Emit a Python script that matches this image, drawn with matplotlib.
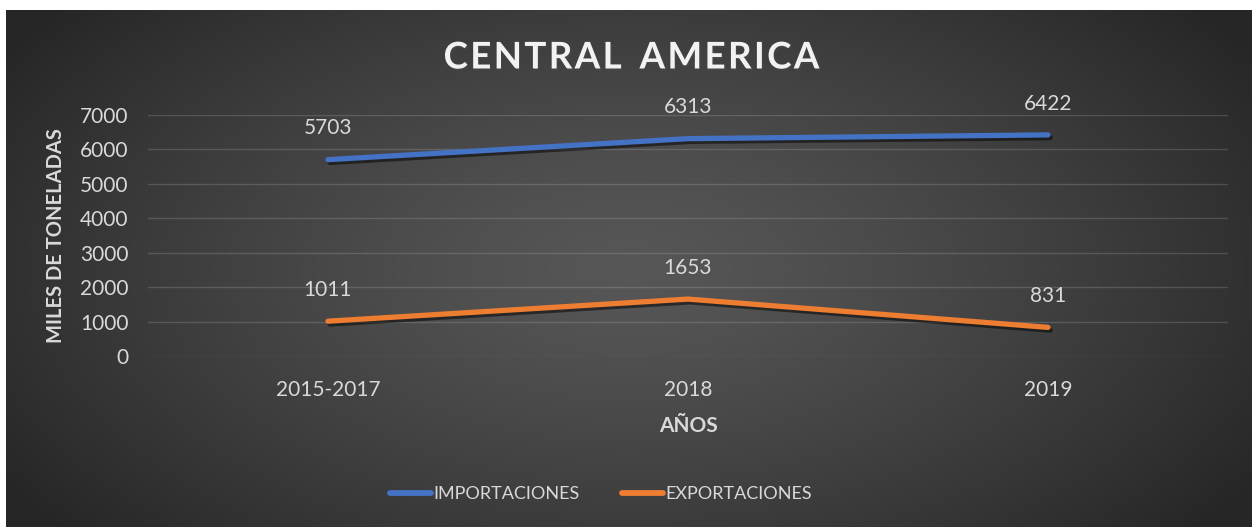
import numpy as np
import matplotlib.pyplot as plt
import matplotlib.patheffects as pe

plt.rcParams['font.family'] = ['Lato', 'DejaVu Sans']

anios = ['2015-2017', '2018', '2019']
importaciones = [5703, 6313, 6422]
exportaciones = [1011, 1653, 831]
y_ticks = [0, 1000, 2000, 3000, 4000, 5000, 6000, 7000]

W, H = 1252, 527
fig = plt.figure(figsize=(W / 100, H / 100), dpi=100)
fig.patch.set_facecolor('white')

# fondo con degradado radial
bg = fig.add_axes([6 / W, 0, (W - 6) / W, (H - 10) / H])
bg.set_axis_off()
gx, gy = np.meshgrid(np.linspace(-1, 1, 600), np.linspace(-1, 1, 260))
r = np.sqrt((gx / 1.0) ** 2 + (gy / 1.3) ** 2)
r = np.clip(r, 0, 1.2) / 1.2
shade = 0.34 - 0.19 * r ** 1.3
img = np.dstack([shade, shade, shade])
bg.imshow(img, aspect='auto', extent=[0, 1, 0, 1], interpolation='bilinear')
bg.set_xlim(0, 1)
bg.set_ylim(0, 1)

ax = fig.add_axes([148 / W, (H - 356) / H, 1080 / W, 241 / H])
ax.patch.set_alpha(0)
x = np.arange(len(anios))

sombra = [pe.SimpleLineShadow(offset=(1.5, -2), shadow_color='black', alpha=0.5), pe.Normal()]
ax.plot(x, importaciones, color='#4472C4', lw=3.8, solid_capstyle='round',
        solid_joinstyle='round', label='IMPORTACIONES', path_effects=sombra, zorder=3)
ax.plot(x, exportaciones, color='#ED7D31', lw=3.8, solid_capstyle='round',
        solid_joinstyle='round', label='EXPORTACIONES', path_effects=sombra, zorder=3)

for serie in (importaciones, exportaciones):
    for xi, v in zip(x, serie):
        ax.annotate(str(v), (xi, v), xytext=(0, 22.5), textcoords='offset points',
                    ha='center', va='center', fontsize=15, color='#d9d9d9')

ax.set_xlim(-0.5, 2.5)
ax.set_ylim(0, 7000)
ax.set_yticks(y_ticks)
ax.set_xticks(x)
ax.set_xticklabels(anios)
ax.grid(axis='y', color='#ffffff', alpha=0.15, lw=1)
ax.set_axisbelow(True)
for s in ax.spines.values():
    s.set_visible(False)
ax.tick_params(length=0, colors='#d9d9d9', labelsize=15)
ax.tick_params(axis='y', pad=14)
ax.tick_params(axis='x', pad=17)

ax.set_ylabel('MILES DE TONELADAS', fontsize=14.5, fontweight='bold', color='#d9d9d9', labelpad=10)
ax.set_xlabel('AÑOS', fontsize=15, fontweight='bold', color='#d9d9d9', labelpad=12)

hs = '\u200a'
titulo = hs.join('CENTRAL') + '  ' + hs.join('AMERICA')
fig.text(631 / W, 1 - 58 / H, titulo,
         ha='center', va='center', fontsize=26.5, fontweight='bold', color='#f2f2f2',
         path_effects=[pe.withSimplePatchShadow(offset=(1, -1.5), alpha=0.6)])

leg = fig.legend(loc='center', bbox_to_anchor=(601 / W, 1 - 494 / H), ncol=2, frameon=False,
                 fontsize=13, labelcolor='#d9d9d9', handlelength=2.3, handletextpad=0.15,
                 columnspacing=2.3)
for h in leg.get_lines():
    h.set_path_effects([])
    h.set_solid_capstyle('round')
    h.set_linewidth(4.2)

fig.savefig('out.png', dpi=100, facecolor=fig.get_facecolor())
